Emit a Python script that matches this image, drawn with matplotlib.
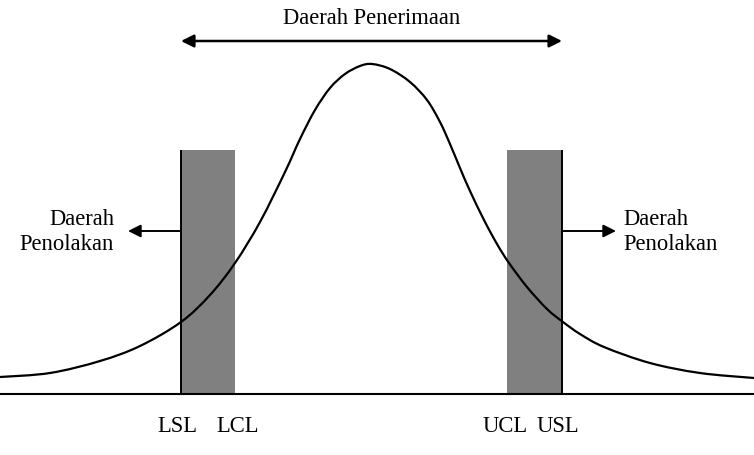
import matplotlib
matplotlib.use("Agg")
import matplotlib.pyplot as plt
from matplotlib.path import Path
from matplotlib.patches import PathPatch

# Kurve: x-Position und Höhe über der Grundlinie
kurve_x = [0, 50, 100, 140, 181, 210, 235, 260, 285, 300, 315, 330, 345, 360, 372,
           390, 410, 427, 440, 450, 460, 470, 484, 497, 509, 527, 547, 563, 580, 604,
           650, 700, 754]
kurve_y = [17, 21, 33, 48, 72, 99, 131, 172, 222, 255, 284, 306, 320, 328, 330,
           325, 312, 294, 272, 250, 226, 203, 174, 150, 131, 107, 85, 72, 60, 47,
           31, 21, 16]

# Grenzen
grenzen = ["LSL", "LCL", "UCL", "USL"]
grenzen_x = [181, 235, 507, 562]
balken_hoehe = 244

fig = plt.figure(figsize=(7.54, 4.55), dpi=100)
ax = fig.add_axes([0, 0, 1, 1])
ax.set_xlim(0, 754)
ax.set_ylim(-61, 394)
ax.axis("off")

fs = 16.3
schrift = "Liberation Serif"

# graue Balken
ax.bar(grenzen_x[0], balken_hoehe, width=grenzen_x[1] - grenzen_x[0], align="edge", color="#808080", zorder=1)
ax.bar(grenzen_x[2], balken_hoehe, width=grenzen_x[3] - grenzen_x[2], align="edge", color="#808080", zorder=1)
# Spezifikationsgrenzen als schwarze Linien
ax.vlines([grenzen_x[0], grenzen_x[3]], 0, balken_hoehe, color="black", lw=1.4, zorder=3)

# Kurve glatt durch die Punkte (Catmull-Rom als Bezier-Pfad)
pts = list(zip(kurve_x, kurve_y))
verts = [pts[0]]
codes = [Path.MOVETO]
for i in range(len(pts) - 1):
    p0 = pts[i - 1] if i > 0 else pts[i]
    p1, p2 = pts[i], pts[i + 1]
    p3 = pts[i + 2] if i + 2 < len(pts) else pts[i + 1]
    c1 = (p1[0] + (p2[0] - p0[0]) / 6, p1[1] + (p2[1] - p0[1]) / 6)
    c2 = (p2[0] - (p3[0] - p1[0]) / 6, p2[1] - (p3[1] - p1[1]) / 6)
    verts += [c1, c2, p2]
    codes += [Path.CURVE4] * 3
ax.add_patch(PathPatch(Path(verts, codes), facecolor="none", edgecolor="black", lw=1.6, zorder=2))
ax.axhline(0, color="black", lw=1.5, zorder=3)

# Beschriftung der Grenzen
versatz = [-4, 3, -2, -4]
for name, x, dx in zip(grenzen, grenzen_x, versatz):
    ax.text(x + dx, -33, name, ha="center", va="center", fontsize=fs, family=schrift)

# Pfeile
pfeil = dict(arrowstyle="-|>", color="black", lw=1.4, mutation_scale=19, shrinkA=0, shrinkB=0)
ax.annotate("", xy=(grenzen_x[0], 353), xytext=(grenzen_x[3], 353),
            arrowprops=dict(arrowstyle="<|-|>", color="black", lw=1.8, mutation_scale=19, shrinkA=0, shrinkB=0))
ax.text((grenzen_x[0] + grenzen_x[3]) / 2, 375, "Daerah Penerimaan", ha="center", va="center",
        fontsize=fs, family=schrift)
ax.annotate("", xy=(128, 163), xytext=(grenzen_x[0], 163), arrowprops=pfeil)
ax.annotate("", xy=(616, 163), xytext=(grenzen_x[3], 163), arrowprops=pfeil)
ax.text(114, 162, "Daerah\nPenolakan", ha="right", va="center", fontsize=fs,
        family=schrift, linespacing=1.3)
ax.text(623, 162, "Daerah\nPenolakan", ha="left", va="center", fontsize=fs,
        family=schrift, linespacing=1.3)

fig.savefig("out.png", dpi=100)
